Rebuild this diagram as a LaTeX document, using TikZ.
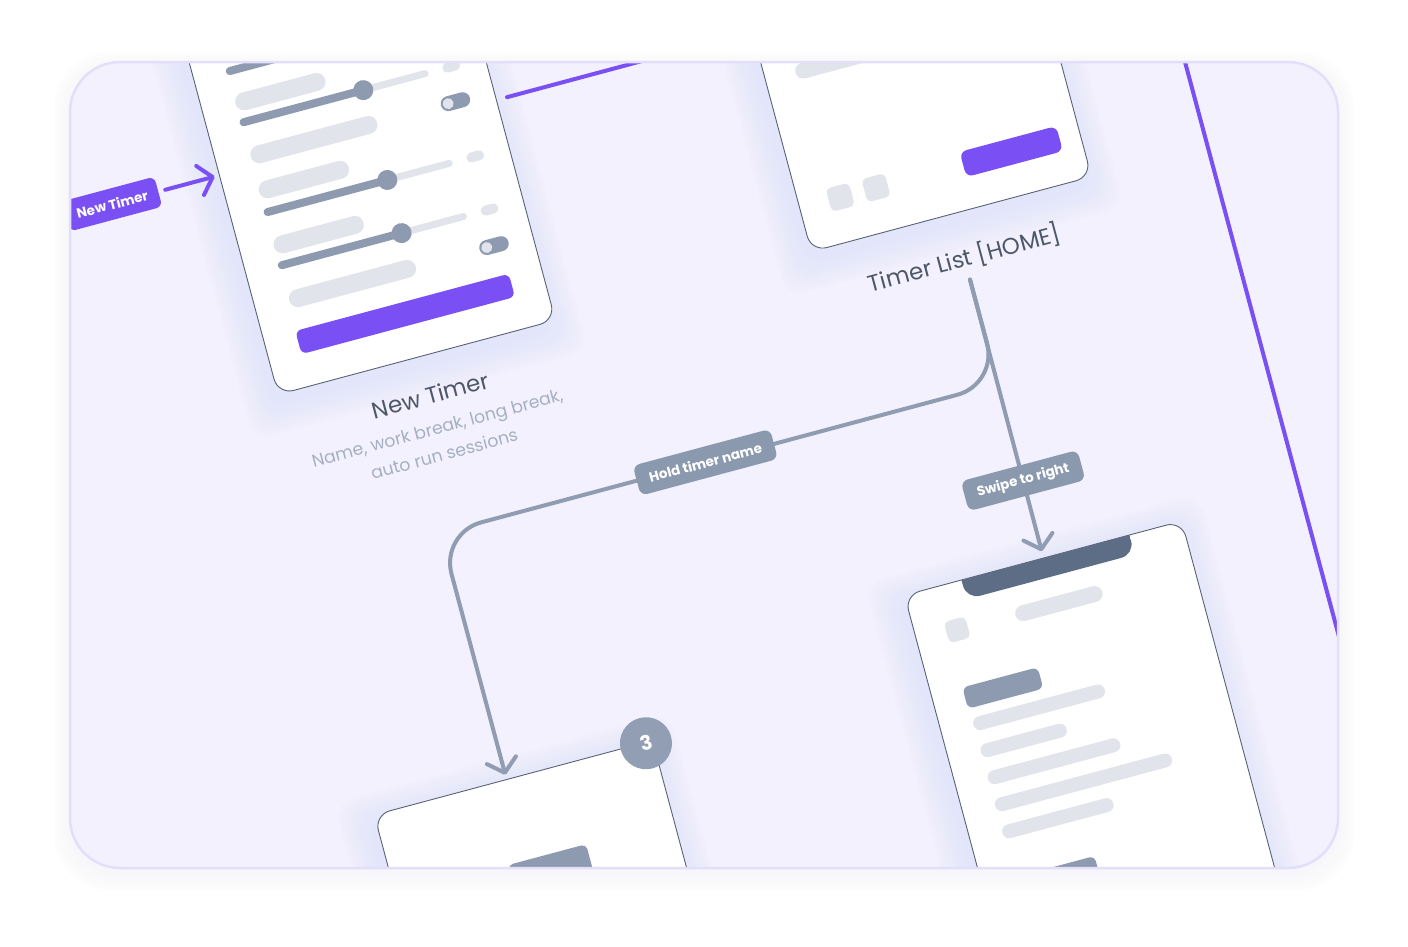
\documentclass[tikz,border=0pt]{standalone}
\usepackage{fontspec}
\setmainfont{Poppins}
\usetikzlibrary{arrows.meta}
\definecolor{bgin}{HTML}{F3F1FE}
\definecolor{framec}{HTML}{E3DEFA}
\definecolor{purp}{HTML}{7A4FF3}
\definecolor{lightbar}{HTML}{E1E5EB}
\definecolor{slate}{HTML}{8D9AAF}
\definecolor{connc}{HTML}{8F9CB1}
\definecolor{pillc}{HTML}{8B99AE}
\definecolor{notchc}{HTML}{5E6D86}
\definecolor{cardline}{HTML}{596275}
\definecolor{titlec}{HTML}{4E5769}
\definecolor{subc}{HTML}{A6B0C2}
\definecolor{glowc}{HTML}{CFD5FA}
\definecolor{badgec}{HTML}{919EB3}

\tikzset{
 card/.style={fill=white, draw=cardline, line width=0.9pt, rounded corners=16pt},
 conn/.style={draw=connc, line width=4pt, line cap=round, rounded corners=42pt},
 purpline/.style={draw=purp, line width=4pt, line cap=round, rounded corners=40pt},
 barb/.style={-{Straight Barb[length=13pt,width=30pt,round]}},
 pill/.style={fill=pillc, text=white, rounded corners=7pt, inner xsep=13pt, inner ysep=0pt, minimum height=31pt, font=\fontsize{13.5}{16}\selectfont\bfseries},
 tagbox/.style={fill=purp, text=white, rounded corners=6pt, inner xsep=11pt, inner ysep=0pt, minimum height=31pt, font=\fontsize{13.5}{16}\selectfont\bfseries},
 title/.style={text=titlec, font=\fontsize{23}{28}\selectfont, inner sep=0pt},
 subtitle/.style={text=subc, font=\fontsize{17.3}{27}\selectfont, align=center, inner sep=0pt},
 badge/.style={circle, fill=badgec, text=white, minimum size=52pt, inner sep=0pt, font=\fontsize{20}{24}\selectfont\bfseries},
}

\newcommand{\pbar}[5]{\draw[#1, line width=#5pt, line cap=round] ({#2+#5/2},#4) -- ({#3-#5/2},#4);}
\newcommand{\slider}[1]{%
 \draw[lightbar, line width=7pt, line cap=round] (-230,#1) -- (-166,#1);
 \draw[slate, line width=8pt, line cap=round] (-354,#1) -- (-230,#1);
 \fill[slate] (-230,#1) circle (10pt);
 \fill[lightbar, rounded corners=5pt] (-148,{#1-5}) rectangle (-130,{#1+5});
}
\newcommand{\toggleat}[1]{%
 \fill[slate, rounded corners=7.5pt] (-159,{#1-7.5}) rectangle (-129,{#1+7.5});
 \fill[lightbar] (-151.5,#1) circle (5.5pt);
}
\newcommand{\glowbox}[4]{%
 \foreach \g in {3,6,...,30} {\fill[glowc, opacity=0.04, rounded corners=20pt] ({#1-\g-6},{#2-\g+8}) rectangle ({#3+\g-6},{#4+\g+8});}
}

\begin{document}
\begin{tikzpicture}[x=1pt,y=-1pt]
\path[use as bounding box] (0,0) rectangle (1408,946);
\fill[white] (0,0) rectangle (1408,946);
\foreach \g in {2,4,...,16} {\fill[framec, opacity=0.03, rounded corners=55pt] ({70-\g},{62-\g+6}) rectangle ({1338+\g},{868+\g+6});}
\fill[bgin, rounded corners=50pt] (70,62) rectangle (1338,868);
\begin{scope}
\clip[rounded corners=50pt] (70,62) rectangle (1338,868);
\begin{scope}[shift={(704,473)}, rotate=15, every node/.style={transform shape}]
 % glows
 \glowbox{-391}{-800}{-104}{-186}
 \glowbox{161}{-800}{451}{-186}
 \glowbox{-407}{245}{-119}{800}
 \glowbox{162}{170}{449}{800}
 % purple line leaving New Timer
 \coordinate (ntout) at (-93,-414);
 \draw[purpline] (ntout) -- (571,-414) -- (571,1400);
 % gray connectors
 \coordinate (tlout) at (307,-118);
 \coordinate (detin) at (306,163);
 \coordinate (editin) at (-270,240);
 \draw[conn, barb] (tlout) -- node[pill, pos=0.74] (swipe) {Swipe to right} (detin);
 \draw[conn, barb] (tlout) -- (307,-10) -- node[pill, pos=0.525] (hold) {Hold timer name} (-270,-10) -- (editin);
 % tag + arrow into New Timer
 \node[tagbox] (tag) at (-502,-413) {New Timer};
 \coordinate (ntin) at (-396,-413);
 \draw[purpline, barb, shorten <=7pt] (tag) -- (ntin);

 % card 1: New Timer
 \draw[card] (-391,-800) rectangle (-104,-186);
 \slider{-511}
 \pbar{lightbar}{-357}{-264}{-478}{18}
 \slider{-458}
 \pbar{lightbar}{-356}{-225}{-423}{18}
 \toggleat{-423}
 \pbar{lightbar}{-357}{-264}{-387}{18}
 \slider{-365}
 \pbar{lightbar}{-357}{-264}{-330}{18}
 \slider{-310}
 \pbar{lightbar}{-356}{-225}{-274}{18}
 \toggleat{-274}
 \fill[purp, rounded corners=6pt] (-358,-243) rectangle (-137,-219);
 \node[title] (nttitle) at (-244,-146) {New Timer};
 \node[subtitle] (ntsub) at (-246,-99) {Name, work break, long break,\\auto run sessions};

 % card 2: Timer List
 \draw[card] (161,-800) rectangle (451,-186);
 \pbar{lightbar}{192}{320}{-363}{16}
 \fill[purp, rounded corners=7pt] (330,-244) rectangle (430,-218);
 \fill[lightbar, rounded corners=5pt] (191,-243) rectangle (215,-219);
 \fill[lightbar, rounded corners=5pt] (228,-243) rectangle (252,-219);
 \node[title] (tltitle) at (307,-140) {Timer List [HOME]};

 % card 3
 \draw[card] (-407,245) rectangle (-119,800);
 \fill[slate, rounded corners=5pt] (-291,328) rectangle (-210,360);
 \node[badge] (b3) at (-126,246) {3};

 % card 4
 \draw[card] (162,170) rectangle (449,800);
 \begin{scope}
  \clip (221,170) rectangle (395,200);
  \fill[notchc, rounded corners=14pt] (221,140) rectangle (395,190);
 \end{scope}
 \fill[lightbar, rounded corners=5pt] (193,206) rectangle (215,228);
 \pbar{lightbar}{264}{354}{218}{16}
 \fill[slate, rounded corners=6pt] (194,274) rectangle (272,296);
 \foreach \v/\r in {313/331, 341/284, 369/332, 397/378, 425/310} {\pbar{lightbar}{195}{\r}{\v}{14}}
 \fill[slate, rounded corners=5pt] (215,471) rectangle (278,500);
\end{scope}
\end{scope}
\draw[framec, line width=2.5pt, rounded corners=50pt] (70,62) rectangle (1338,868);
\end{tikzpicture}
\end{document}
